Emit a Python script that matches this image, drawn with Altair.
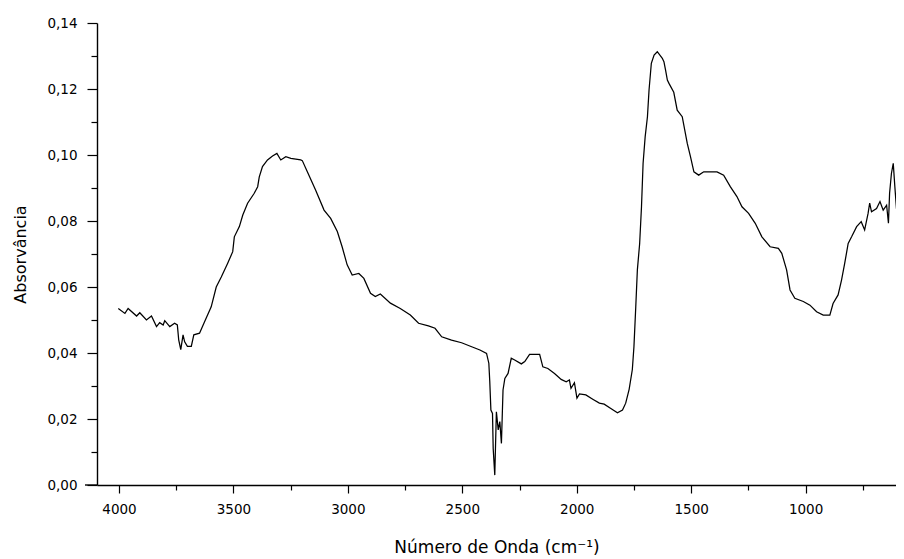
import altair as alt
import pandas as pd

# Wavenumber (cm-1) and absorbance
wavenumber = [
    4003, 3974, 3960, 3923, 3909, 3880, 3858, 3836, 3822, 3807, 3800, 3778, 3757, 3745,
    3739, 3730, 3720, 3713, 3701, 3684, 3673, 3648, 3626, 3597, 3575, 3553, 3525, 3503,
    3496, 3474, 3459, 3438, 3409, 3394, 3387, 3373, 3351, 3329, 3310, 3293, 3271, 3249,
    3206, 3199, 3177, 3141, 3104, 3075, 3046, 3025, 3003, 2981, 2952, 2930, 2901, 2880,
    2858, 2814, 2771, 2727, 2691, 2648, 2619, 2590, 2547, 2503, 2459, 2423, 2394, 2384,
    2380, 2375, 2368, 2365, 2358, 2351, 2343, 2336, 2329, 2322, 2314, 2300, 2286, 2271,
    2242, 2227, 2206, 2162, 2148, 2126, 2097, 2068, 2046, 2032, 2025, 2010, 1999, 1988,
    1960, 1930, 1901, 1880, 1851, 1822, 1800, 1786, 1771, 1757, 1750, 1742, 1735, 1725,
    1717, 1710, 1701, 1691, 1684, 1674, 1662, 1648, 1626, 1619, 1612, 1604, 1597, 1576,
    1561, 1539, 1517, 1503, 1488, 1467, 1445, 1387, 1358, 1329, 1300, 1278, 1249, 1220,
    1191, 1155, 1119, 1104, 1083, 1068, 1047, 1010, 981, 952, 923, 894, 880, 858,
    843, 829, 814, 799, 777, 757, 742, 727, 720, 712, 690, 675, 661, 646,
    638, 633, 625, 617, 610, 603, 597,
]
absorbance = [
    0.0535, 0.0520, 0.0535, 0.0512, 0.0522, 0.0500, 0.0512, 0.0480, 0.0492, 0.0485, 0.0498, 0.0480, 0.0490, 0.0485,
    0.0440, 0.0410, 0.0455, 0.0434, 0.0420, 0.0420, 0.0455, 0.0460, 0.0495, 0.0540, 0.0600, 0.0630, 0.0672, 0.0707,
    0.0752, 0.0783, 0.0818, 0.0854, 0.0884, 0.0904, 0.0934, 0.0965, 0.0985, 0.0997, 0.1005, 0.0985, 0.0995, 0.0990,
    0.0985, 0.0983, 0.0949, 0.0894, 0.0833, 0.0808, 0.0768, 0.0722, 0.0667, 0.0636, 0.0641, 0.0626, 0.0581, 0.0571,
    0.0579, 0.0551, 0.0535, 0.0515, 0.0490, 0.0482, 0.0475, 0.0449, 0.0439, 0.0431, 0.0419, 0.0409, 0.0399, 0.0369,
    0.0315, 0.0227, 0.0217, 0.0111, 0.0030, 0.0222, 0.0167, 0.0192, 0.0126, 0.0288, 0.0323, 0.0338, 0.0384, 0.0379,
    0.0367, 0.0374, 0.0396, 0.0396, 0.0358, 0.0353, 0.0338, 0.0320, 0.0313, 0.0318, 0.0293, 0.0310, 0.0263, 0.0276,
    0.0273, 0.0260, 0.0248, 0.0245, 0.0232, 0.0219, 0.0227, 0.0248, 0.0290, 0.0350, 0.0419, 0.0540, 0.0652, 0.0732,
    0.0843, 0.0975, 0.1055, 0.1116, 0.1197, 0.1278, 0.1303, 0.1313, 0.1293, 0.1283, 0.1258, 0.1227, 0.1217, 0.1190,
    0.1136, 0.1116, 0.1035, 0.0995, 0.0949, 0.0939, 0.0949, 0.0949, 0.0939, 0.0904, 0.0874, 0.0843, 0.0823, 0.0793,
    0.0752, 0.0722, 0.0717, 0.0702, 0.0652, 0.0591, 0.0566, 0.0556, 0.0545, 0.0525, 0.0515, 0.0515, 0.0550, 0.0576,
    0.0621, 0.0672, 0.0732, 0.0752, 0.0783, 0.0798, 0.0773, 0.0823, 0.0854, 0.0828, 0.0838, 0.0859, 0.0833, 0.0848,
    0.0793, 0.0884, 0.0944, 0.0975, 0.0904, 0.0838, 0.0818,
]

x_major = [4000, 3500, 3000, 2500, 2000, 1500, 1000]
x_minor = [3750, 3250, 2750, 2250, 1750, 1250, 750]
y_major = [0.0, 0.02, 0.04, 0.06, 0.08, 0.10, 0.12, 0.14]
y_minor = [0.01, 0.03, 0.05, 0.07, 0.09, 0.11, 0.13]

x_title = "Número de Onda (cm⁻¹)"
y_title = "Absorvância"

df = pd.DataFrame({"wn": wavenumber, "abs": absorbance, "idx": list(range(len(wavenumber)))})

W, H = 799, 462
FONT = "DejaVu Sans"

xscale = alt.Scale(domain=[4096, 605], nice=False, zero=False)
yscale = alt.Scale(domain=[0, 0.14], nice=False, zero=False)

major = alt.Chart(df).mark_line(color="black", strokeWidth=1.25, clip=True).encode(
    x=alt.X("wn:Q", scale=xscale, axis=alt.Axis(
        orient="bottom", values=x_major, format="d", grid=False,
        tickSize=8, tickWidth=1.2, tickColor="black",
        domainColor="black", domainWidth=1.4,
        labelFont=FONT, labelFontSize=13.5, labelColor="black", labelPadding=9,
        labelFlush=False, labelOverlap=False,
        title=x_title, titleFont=FONT, titleFontSize=17, titleFontWeight="normal",
        titleColor="black", titleY=62, titleBaseline="middle", titleAlign="center",
    )),
    y=alt.Y("abs:Q", scale=yscale, axis=alt.Axis(
        orient="left", values=y_major, grid=False,
        labelExpr="replace(format(datum.value, '.2f'), '.', ',')",
        tickSize=10, tickWidth=1.2, tickColor="black",
        domainColor="black", domainWidth=1.4,
        labelFont=FONT, labelFontSize=13.5, labelColor="black", labelPadding=10,
        labelFlush=False, labelOverlap=False,
        title=y_title, titleFont=FONT, titleFontSize=16, titleFontWeight="normal",
        titleColor="black", titleX=-77, titleY=231, titleAngle=270,
        titleBaseline="middle", titleAlign="center",
    )),
    order="idx:Q",
)

minor = alt.Chart(df).mark_line(opacity=0, clip=True).encode(
    x=alt.X("wn:Q", scale=xscale, axis=alt.Axis(
        orient="bottom", values=x_minor, labels=False, domain=False, grid=False,
        tickSize=5, tickWidth=1.2, tickColor="black", title="",
    )),
    y=alt.Y("abs:Q", scale=yscale, axis=alt.Axis(
        orient="left", values=y_minor, labels=False, domain=False, grid=False,
        tickSize=6, tickWidth=1.2, tickColor="black", title="",
    )),
    order="idx:Q",
)

axis_ext = alt.Chart(pd.DataFrame({"v": [0]})).mark_rule(color="black", strokeWidth=1.4).encode(
    x=alt.value(-12), x2=alt.value(0), y=alt.value(H)
)

chart = alt.layer(minor, major, axis_ext).resolve_axis(
    x="independent", y="independent"
).properties(
    width=W, height=H,
    autosize=alt.AutoSizeParams(type="none"),
    padding={"left": 89, "top": 15, "right": 0, "bottom": 74},
    background="white",
).configure_view(stroke=None)

chart.save("out.html", embed_options={"renderer": "svg", "actions": False})
